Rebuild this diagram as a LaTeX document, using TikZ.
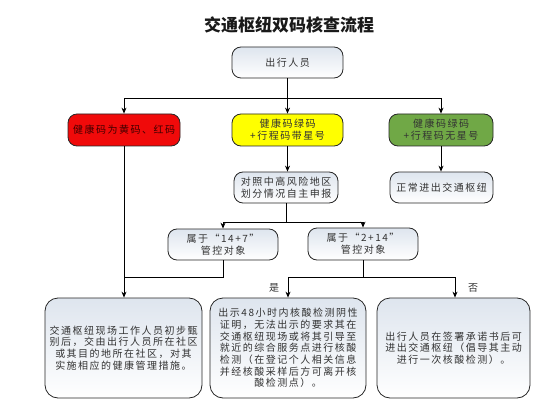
\documentclass[tikz,border=0pt]{standalone}
\usepackage{fontspec}
\setmainfont{Noto Sans CJK SC}
\newfontfamily\cjk[LetterSpace=15]{Noto Sans CJK SC}
\usetikzlibrary{arrows.meta}
\definecolor{boxtop}{RGB}{222,229,238}
\definecolor{redfill}{RGB}{240,10,10}
\definecolor{yelfill}{RGB}{255,255,0}
\definecolor{grnfill}{RGB}{112,168,70}
\definecolor{txt}{RGB}{50,50,50}
\tikzset{
  base/.style={draw=black!85, line width=0.8pt, rounded corners=9pt, align=center,
    font=\cjk\fontsize{10}{11.7}\selectfont, text=txt, inner sep=1pt},
  wbox/.style={base, top color=boxtop, bottom color=white},
  bigbox/.style={wbox, rounded corners=13pt},
  arr/.style={line width=0.8pt, -{Stealth[length=6pt,width=5pt]}},
  ln/.style={line width=0.8pt},
  lbl/.style={font=\cjk\fontsize{10}{12}\selectfont, text=txt}
}
\begin{document}
\begin{tikzpicture}[x=1pt,y=-1pt]
\useasboundingbox (0,0) rectangle (556,406);
\node[font=\bfseries\fontsize{17}{20}\selectfont, text=black!90] (title) at (289,25) {交通枢纽双码核查流程};
\node[wbox, minimum width=111pt, minimum height=31pt] (start) at (287.5,62.5) {出行人员};
\node[base, fill=redfill, text=black!75!red, minimum width=112pt, minimum height=32pt] (red) at (124,130) {健康码为黄码、红码};
\node[base, fill=yelfill, text=black!80, minimum width=111pt, minimum height=32pt] (yel) at (287.5,130) {健康码绿码\\+行程码带星号};
\node[base, fill=grnfill, text=black!80, minimum width=104pt, minimum height=32pt] (grn) at (441,130) {健康码绿码\\+行程码无星号};
\node[wbox, minimum width=104pt, minimum height=31pt] (decl) at (286,187.5) {对照中高风险地区\\划分情况自主申报};
\node[wbox, minimum width=103pt, minimum height=31pt] (norm) at (441.5,187.5) {正常进出交通枢纽};
\node[wbox, minimum width=110pt, minimum height=31pt] (c147) at (223,244.5) {属于“14+7”\\管控对象};
\node[wbox, minimum width=110pt, minimum height=32pt] (c214) at (363,244) {属于“2+14”\\管控对象};
\node[bigbox, minimum width=157pt, minimum height=100pt] (bl) at (123.5,348) {交通枢纽现场工作人员初步甄\\别后，交由出行人员所在社区\\或其目的地所在社区，对其\\实施相应的健康管理措施。};
\node[bigbox, minimum width=156pt, minimum height=100pt] (bm) at (288,348) {出示48小时内核酸检测阴性\\证明，无法出示的要求其在\\交通枢纽现场或将其引导至\\就近的综合服务点进行核酸\\检测（在登记个人相关信息\\并经核酸采样后方可离开核\\酸检测点）。};
\node[bigbox, minimum width=153pt, minimum height=100pt] (br) at (453.5,348) {出行人员在签署承诺书后可\\进出交通枢纽（倡导其主动\\进行一次核酸检测）。};
% connectors
\coordinate (j1) at (287.5,98);
\draw[ln] (start.south) -- (j1);
\draw[arr] (j1) -| (red.north);
\draw[arr] (j1) -| (grn.north);
\draw[arr] (j1) -- (yel.north);
\draw[arr] (yel.south) -- (yel.south |- decl.north);
\draw[arr] (grn.south) -- (grn.south |- norm.north);
\coordinate (j2) at (286,222);
\draw[ln] (decl.south) -- (j2);
\draw[arr] (j2) -| (c147.north);
\draw[arr] (j2) -| (c214.north);
\coordinate (j3) at (124,277);
\draw[ln] (red.south) -- (j3);
\draw[ln] (c147.south) |- (j3);
\draw[arr] (j3) -- (j3 |- bl.north);
\coordinate (j4) at (363,277);
\coordinate (yes) at (288,277);
\coordinate (no) at (455,277);
\draw[ln] (c214.south) -- (j4);
\draw[ln] (yes) -- (no);
\draw[arr] (yes) -- (yes |- bm.north);
\draw[arr] (no) -- (no |- br.north);
\node[lbl] (lyes) at (274,288) {是};
\node[lbl] (lno) at (473,288) {否};
\end{tikzpicture}
\end{document}
